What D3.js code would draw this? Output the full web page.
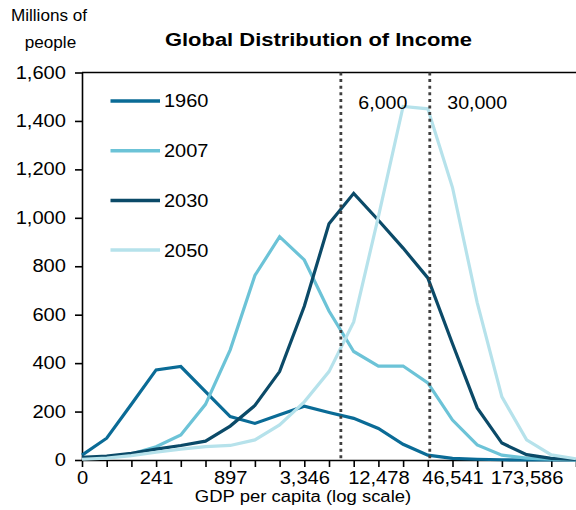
<!DOCTYPE html>
<html>
<head>
<meta charset="utf-8">
<script src="https://cdn.jsdelivr.net/npm/d3@7"></script>
<style>
  html, body { margin: 0; padding: 0; background: #fff; }
  svg { display: block; font-family: "Liberation Sans", Arial, sans-serif; }
</style>
</head>
<body>
<svg id="chart" width="576" height="510"></svg>
<script>
// ---- data ----
const gdpTickLabels = ["0", "", "", "241", "", "", "897", "", "", "3,346", "", "",
                       "12,478", "", "", "46,541", "", "", "173,586", "", ""];
const years = ["1960", "2007", "2030", "2050"];
const values1960 = [20, 90, 230, 372, 386, 282, 179, 151, 187, 222, 196, 172, 130, 65, 20, 7, 3, 1, 0, 0, 0];
const values2007 = [10, 12, 25, 55, 103, 230, 455, 762, 922, 826, 615, 448, 388, 388, 318, 165, 62, 20, 8, 3, 0];
const values2030 = [11, 16, 28, 45, 60, 78, 140, 225, 365, 635, 975, 1101, 990, 875, 752, 480, 215, 70, 22, 7, 2];
const values2050 = [3, 8, 18, 32, 45, 55, 60, 83, 145, 240, 365, 570, 1005, 1460, 1450, 1125, 650, 261, 83, 21, 5];
const yTicks = [0, 200, 400, 600, 800, 1000, 1200, 1400, 1600];
const markerIndex = [10.48, 14.08];
const markerLabels = ["6,000", "30,000"];

const seriesValues = [values1960, values2007, values2030, values2050];
const colors = ["#0a6b96", "#6cc3d7", "#0b4a68", "#b6e2eb"];

(function () {
// ---- layout ----
const svg = d3.select("#chart");
const pLeft = 82, pRight = 576, pTop = 72.5, pBottom = 460;
const x = d3.scaleLinear().domain([0, gdpTickLabels.length - 1]).range([pLeft, pRight]);
const y = d3.scaleLinear().domain([0, 1600]).range([pBottom, pTop]);

function stretch(sel, k) {
  sel.each(function () {
    const w = this.getComputedTextLength();
    d3.select(this).attr("textLength", w * k).attr("lengthAdjust", "spacingAndGlyphs");
  });
}

// top border
svg.append("line").attr("x1", pLeft).attr("x2", pRight).attr("y1", pTop).attr("y2", pTop)
  .attr("stroke", "#000").attr("stroke-width", 1.6);

// y axis
const yAxis = svg.append("g").attr("transform", `translate(${pLeft},0)`)
  .call(d3.axisLeft(y).tickValues(yTicks).tickFormat(d3.format(",")).tickSize(7).tickSizeOuter(0));
yAxis.select(".domain").attr("stroke", "#000").attr("stroke-width", 1.6);
yAxis.selectAll(".tick line").attr("stroke", "#000").attr("stroke-width", 1.6);
yAxis.selectAll(".tick text").attr("font-size", 17.5).attr("fill", "#000")
  .attr("x", -16).attr("font-family", "Liberation Sans, Arial, sans-serif").call(stretch, 1.15);

// x axis
const xAxis = svg.append("g").attr("transform", `translate(0,${pBottom})`)
  .call(d3.axisBottom(x).tickValues(d3.range(gdpTickLabels.length))
    .tickFormat(i => gdpTickLabels[i]).tickSize(7).tickSizeOuter(0));
xAxis.select(".domain").attr("stroke", "#000").attr("stroke-width", 1.6);
xAxis.selectAll(".tick line").attr("stroke", "#000").attr("stroke-width", 1.6);
xAxis.selectAll(".tick text").attr("font-size", 17.5).attr("fill", "#000")
  .attr("y", 11.5).attr("font-family", "Liberation Sans, Arial, sans-serif").call(stretch, 1.15);

// series lines
const line = d3.line().x((d, i) => x(i)).y(d => y(d));
svg.append("g").selectAll("path").data(seriesValues).join("path")
  .attr("d", d => line(d))
  .attr("fill", "none")
  .attr("stroke", (d, i) => colors[i])
  .attr("stroke-width", 3.2)
  .attr("stroke-linejoin", "miter");

// marker dotted lines
svg.append("g").selectAll("line").data(markerIndex).join("line")
  .attr("x1", d => x(d)).attr("x2", d => x(d))
  .attr("y1", pTop).attr("y2", pBottom)
  .attr("stroke", "#404040").attr("stroke-width", 2.8)
  .attr("stroke-dasharray", "3,3.6");

svg.append("g").selectAll("text").data(markerLabels).join("text")
  .attr("x", (d, i) => x(markerIndex[i]) + 17.5)
  .attr("y", 109)
  .attr("font-size", 19)
  .attr("fill", "#000")
  .text(d => d)
  .call(stretch, 1.03);

// legend
const lg = svg.append("g").selectAll("g").data(years).join("g")
  .attr("transform", (d, i) => `translate(110.5,${101 + i * 49.7})`);
lg.append("line").attr("x1", 0).attr("x2", 49.5).attr("y1", 0).attr("y2", 0)
  .attr("stroke", (d, i) => colors[i]).attr("stroke-width", 3.5);
lg.append("text").attr("x", 53.5).attr("y", 6.4)
  .attr("font-size", 17.7).attr("fill", "#000").text(d => d).call(stretch, 1.13);

// title
svg.append("text").attr("x", 318.5).attr("y", 46).attr("text-anchor", "middle")
  .attr("font-size", 18.3).attr("font-weight", "bold").attr("fill", "#000")
  .text("Global Distribution of Income").call(stretch, 1.2);

// y axis title
svg.append("text").attr("x", 49).attr("y", 21).attr("text-anchor", "middle")
  .attr("font-size", 16).attr("fill", "#000").text("Millions of").call(stretch, 1.07);
svg.append("text").attr("x", 50.5).attr("y", 47.5).attr("text-anchor", "middle")
  .attr("font-size", 16).attr("fill", "#000").text("people").call(stretch, 1.07);

// x axis title
svg.append("text").attr("x", 303).attr("y", 502).attr("text-anchor", "middle")
  .attr("font-size", 15.8).attr("fill", "#000").text("GDP per capita (log scale)").call(stretch, 1.17);
})();
</script>
</body>
</html>
